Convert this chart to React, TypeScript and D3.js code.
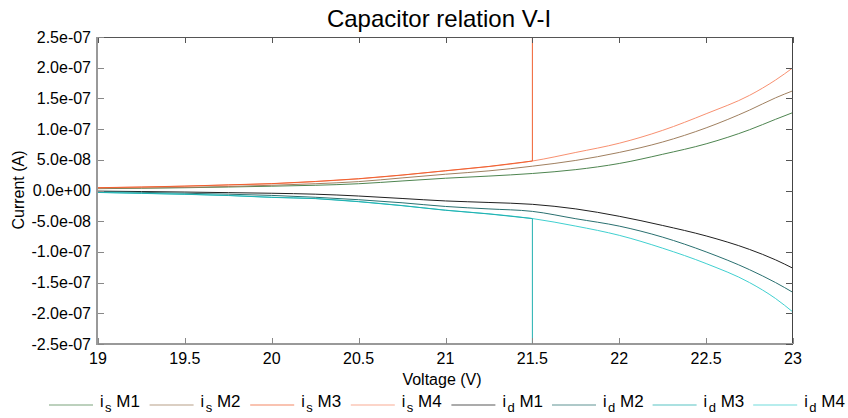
import React from "react";
import * as d3 from "d3";

const voltage = [19, 19.25, 19.5, 19.75, 20, 20.25, 20.5, 20.75, 21, 21.25, 21.5, 21.75, 22, 22.25, 22.5, 22.75, 22.9, 23];
const voltageM3 = [19, 19.25, 19.5, 19.75, 20, 20.25, 20.5, 20.75, 21, 21.25, 21.5, 21.5];

const isM1 = [0.3e-8, 0.37e-8, 0.45e-8, 0.57e-8, 0.7e-8, 0.85e-8, 1.1e-8, 1.55e-8, 2.0e-8, 2.35e-8, 2.77e-8, 3.4e-8, 4.4e-8, 5.9e-8, 7.6e-8, 9.9e-8, 11.6e-8, 12.7e-8];
const isM2 = [0.35e-8, 0.42e-8, 0.5e-8, 0.65e-8, 0.85e-8, 1.1e-8, 1.45e-8, 2.05e-8, 2.65e-8, 3.2e-8, 3.96e-8, 4.9e-8, 6.2e-8, 7.9e-8, 10.2e-8, 13.1e-8, 15.1e-8, 16.25e-8];
const isM3 = [0.46e-8, 0.57e-8, 0.72e-8, 0.92e-8, 1.12e-8, 1.47e-8, 1.92e-8, 2.52e-8, 3.22e-8, 3.92e-8, 4.8e-8, 1e-6];
const isM4 = [0.44e-8, 0.55e-8, 0.7e-8, 0.9e-8, 1.1e-8, 1.45e-8, 1.9e-8, 2.5e-8, 3.2e-8, 3.9e-8, 4.8e-8, 6.2e-8, 7.7e-8, 9.8e-8, 12.5e-8, 15.5e-8, 18.0e-8, 20.0e-8];
const idM1 = [-0.1e-8, -0.17e-8, -0.25e-8, -0.35e-8, -0.45e-8, -0.6e-8, -0.9e-8, -1.3e-8, -1.7e-8, -1.95e-8, -2.25e-8, -3.0e-8, -4.2e-8, -5.7e-8, -7.4e-8, -9.6e-8, -11.3e-8, -12.67e-8];
const idM2 = [-0.2e-8, -0.3e-8, -0.45e-8, -0.6e-8, -0.8e-8, -1.1e-8, -1.5e-8, -2.0e-8, -2.6e-8, -3.0e-8, -3.4e-8, -4.6e-8, -5.8e-8, -7.6e-8, -10.0e-8, -12.9e-8, -15.0e-8, -16.6e-8];
const idM3 = [-0.32e-8, -0.47e-8, -0.62e-8, -0.82e-8, -1.12e-8, -1.32e-8, -1.82e-8, -2.47e-8, -3.22e-8, -3.82e-8, -4.57e-8, -1e-6];
const idM4 = [-0.3e-8, -0.45e-8, -0.6e-8, -0.8e-8, -1.1e-8, -1.3e-8, -1.8e-8, -2.45e-8, -3.2e-8, -3.8e-8, -4.57e-8, -5.8e-8, -7.3e-8, -9.4e-8, -11.9e-8, -15.0e-8, -17.6e-8, -19.8e-8];

const xTicks = [19, 19.5, 20, 20.5, 21, 21.5, 22, 22.5, 23];
const yTicks = [2.5e-7, 2.0e-7, 1.5e-7, 1.0e-7, 5.0e-8, 0, -5.0e-8, -1.0e-7, -1.5e-7, -2.0e-7, -2.5e-7];

const seriesNames = ["M1", "M2", "M3", "M4", "M1", "M2", "M3", "M4"];
const seriesSubs = ["s", "s", "s", "s", "d", "d", "d", "d"];
const seriesColors = ["#4e8550", "#a08060", "#f06030", "#f89070", "#202020", "#2a7070", "#20b0b0", "#40d0d0"];

const W = 848, H = 418;
const L = 98, R = 793, T = 37, B = 344;
const FONT = "'Liberation Sans', Arial, sans-serif";

function fmt(v: number): string {
  const s = v.toExponential(1);
  return s.replace(/e([+-])(\d)$/, "e$10$2");
}

export default function App() {
  const x = d3.scaleLinear().domain([19, 23]).range([L, R]);
  const y = d3.scaleLinear().domain([-2.5e-7, 2.5e-7]).range([B, T]);
  const smooth = d3.line<[number, number]>().x(d => x(d[0])).y(d => y(d[1])).curve(d3.curveMonotoneX);
  const straight = d3.line<[number, number]>().x(d => x(d[0])).y(d => y(d[1]));

  const series = [
    { xs: voltage, ys: isM1, c: 0, lin: false },
    { xs: voltage, ys: isM2, c: 1, lin: false },
    { xs: voltage, ys: isM4, c: 3, lin: false },
    { xs: voltageM3, ys: isM3, c: 2, lin: true },
    { xs: voltage, ys: idM1, c: 4, lin: false },
    { xs: voltage, ys: idM2, c: 5, lin: false },
    { xs: voltage, ys: idM4, c: 7, lin: false },
    { xs: voltageM3, ys: idM3, c: 6, lin: true },
  ];

  return (
    <svg width={W} height={H} style={{ position: "absolute", left: 0, top: 0, background: "#fff" }} fontFamily={FONT}>
      <defs>
        <clipPath id="plot">
          <rect x={L} y={T} width={R - L} height={B - T} />
        </clipPath>
      </defs>
      <rect x={0} y={0} width={W} height={H} fill="#fff" />
      <text x={439} y={27} fontSize={24} textAnchor="middle" fill="#000">Capacitor relation V-I</text>

      <g clipPath="url(#plot)">
        {series.map((s, i) => {
          const pts = s.xs.map((v, j) => [v, s.ys[j]] as [number, number]);
          const gen = s.lin ? straight : smooth;
          return <path key={i} d={gen(pts) || ""} fill="none" stroke={seriesColors[s.c]} strokeWidth={1} />;
        })}
      </g>

      {/* frame */}
      <line x1={L} x2={R} y1={T + 0.5} y2={T + 0.5} stroke="#555" strokeWidth={1} />
      <line x1={R - 0.5} x2={R - 0.5} y1={T} y2={B} stroke="#444" strokeWidth={1} />
      <line x1={L - 1} x2={L - 1} y1={T} y2={B + 1} stroke="#999" strokeWidth={2} />
      <line x1={L - 1} x2={R} y1={B} y2={B} stroke="#999" strokeWidth={2} />

      {xTicks.map((t, i) => (
        <g key={"x" + i}>
          <line x1={Math.round(x(t)) + 0.5} x2={Math.round(x(t)) + 0.5} y1={B} y2={B - 6} stroke="#888" />
          <line x1={Math.round(x(t)) + 0.5} x2={Math.round(x(t)) + 0.5} y1={T} y2={T + 6} stroke="#555" />
          <text x={x(t)} y={364} fontSize={16} textAnchor="middle" fill="#000">{String(t)}</text>
        </g>
      ))}
      {yTicks.map((t, i) => (
        <g key={"y" + i}>
          <line x1={L} x2={L + 6} y1={Math.round(y(t)) + 0.5} y2={Math.round(y(t)) + 0.5} stroke="#888" />
          <line x1={R} x2={R - 7} y1={Math.round(y(t)) + 0.5} y2={Math.round(y(t)) + 0.5} stroke="#555" />
          <text x={91} y={y(t) + 5.5} fontSize={16} textAnchor="end" fill="#000">{fmt(t)}</text>
        </g>
      ))}

      <text x={442} y={385} fontSize={16} textAnchor="middle" fill="#000">Voltage (V)</text>
      <text transform={`translate(24, 190) rotate(-90)`} fontSize={16} textAnchor="middle" fill="#000">Current (A)</text>

      {seriesNames.map((n, i) => {
        const x0 = 49 + i * 100.6;
        return (
          <g key={"lg" + i}>
            <line x1={x0} x2={x0 + 44} y1={405} y2={405} stroke={seriesColors[i]} strokeWidth={1} opacity={0.75} />
            <text x={x0 + 51} y={407} fontSize={16} fill="#000">
              i<tspan fontSize={13} dx={1.5} dy={5}>{seriesSubs[i]}</tspan><tspan fontSize={17} dy={-5}> {n}</tspan>
            </text>
          </g>
        );
      })}
    </svg>
  );
}
